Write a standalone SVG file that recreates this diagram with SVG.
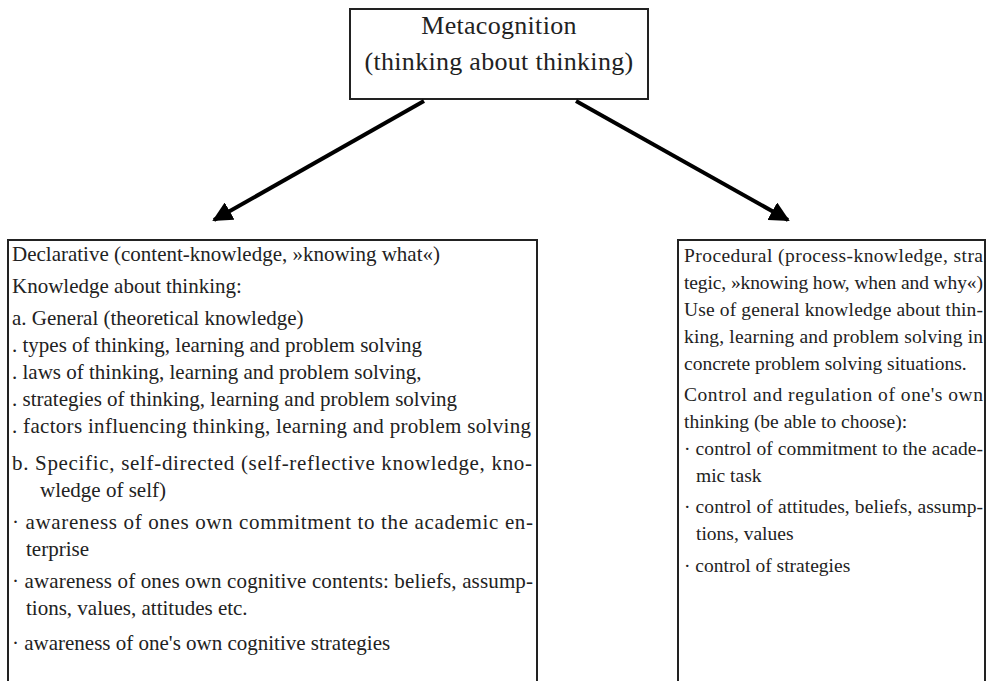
<svg xmlns="http://www.w3.org/2000/svg" width="994" height="681" viewBox="0 0 994 681">
<style>
.box{fill:#fff;stroke:#222;stroke-width:2}
.t{font-family:"Liberation Serif","Times New Roman",serif;font-size:21px;fill:#222}
.r{font-family:"Liberation Serif","Times New Roman",serif;font-size:19.5px;fill:#222}
.h{font-family:"Liberation Serif","Times New Roman",serif;font-size:26px;fill:#222;text-anchor:middle;letter-spacing:0.3px}
.c{stroke:#000;stroke-width:4;fill:none}
</style>
<defs>
<marker id="ah" viewBox="0 0 10 10" refX="9" refY="5" markerWidth="5" markerHeight="5" orient="auto" markerUnits="strokeWidth">
<path d="M0,0 L10,5 L0,10 z" fill="#000"/>
</marker>
</defs>
<rect width="994" height="681" fill="#fff"/>
<g id="top">
<rect class="box" x="350" y="9" width="298" height="90"/>
<text class="h" x="499" y="34">Metacognition</text>
<text class="h" x="499" y="70">(thinking about thinking)</text>
</g>
<g id="connectors">
<line class="c" x1="424" y1="101" x2="214" y2="220" marker-end="url(#ah)"/>
<line class="c" x1="576" y1="101" x2="788" y2="220" marker-end="url(#ah)"/>
</g>
<g id="declarative">
<rect class="box" x="8" y="240" width="529" height="450"/>
<text class="t" x="12" y="261">Declarative (content-knowledge, »knowing what«)</text>
<text class="t" x="12" y="293">Knowledge about thinking:</text>
<text class="t" x="12" y="325">a. General (theoretical knowledge)</text>
<text class="t" x="12" y="352">. types of thinking, learning and problem solving</text>
<text class="t" x="12" y="379">. laws of thinking, learning and problem solving,</text>
<text class="t" x="12" y="406">. strategies of thinking, learning and problem solving</text>
<text class="t" x="12" y="433" textLength="519" lengthAdjust="spacing">. factors influencing thinking, learning and problem solving</text>
<text class="t" x="12" y="470" textLength="520" lengthAdjust="spacing">b. Specific, self-directed (self-reflective knowledge, kno-</text>
<text class="t" x="40" y="497">wledge of self)</text>
<text class="t" x="12" y="529" textLength="521" lengthAdjust="spacing">· awareness of ones own commitment to the academic en-</text>
<text class="t" x="26" y="556">terprise</text>
<text class="t" x="12" y="588" textLength="521" lengthAdjust="spacing">· awareness of ones own cognitive contents: beliefs, assump-</text>
<text class="t" x="26" y="615">tions, values, attitudes etc.</text>
<text class="t" x="12" y="650">· awareness of one's own cognitive strategies</text>
</g>
<g id="procedural">
<rect class="box" x="678" y="240" width="307" height="450"/>
<text class="r" x="684" y="262" textLength="299" lengthAdjust="spacing">Procedural (process-knowledge, stra</text>
<text class="r" x="684" y="289" textLength="299" lengthAdjust="spacing">tegic, »knowing how, when and why«)</text>
<text class="r" x="684" y="316" textLength="299" lengthAdjust="spacing">Use of general knowledge about thin-</text>
<text class="r" x="684" y="343" textLength="299" lengthAdjust="spacing">king, learning and problem solving in</text>
<text class="r" x="684" y="370">concrete problem solving situations.</text>
<text class="r" x="684" y="401" textLength="299" lengthAdjust="spacing">Control and regulation of one's own</text>
<text class="r" x="684" y="428">thinking (be able to choose):</text>
<text class="r" x="684" y="455" textLength="299" lengthAdjust="spacing">· control of commitment to the acade-</text>
<text class="r" x="696" y="482">mic task</text>
<text class="r" x="684" y="513" textLength="299" lengthAdjust="spacing">· control of attitudes, beliefs, assump-</text>
<text class="r" x="696" y="540">tions, values</text>
<text class="r" x="684" y="572">· control of strategies</text>
</g>
</svg>
